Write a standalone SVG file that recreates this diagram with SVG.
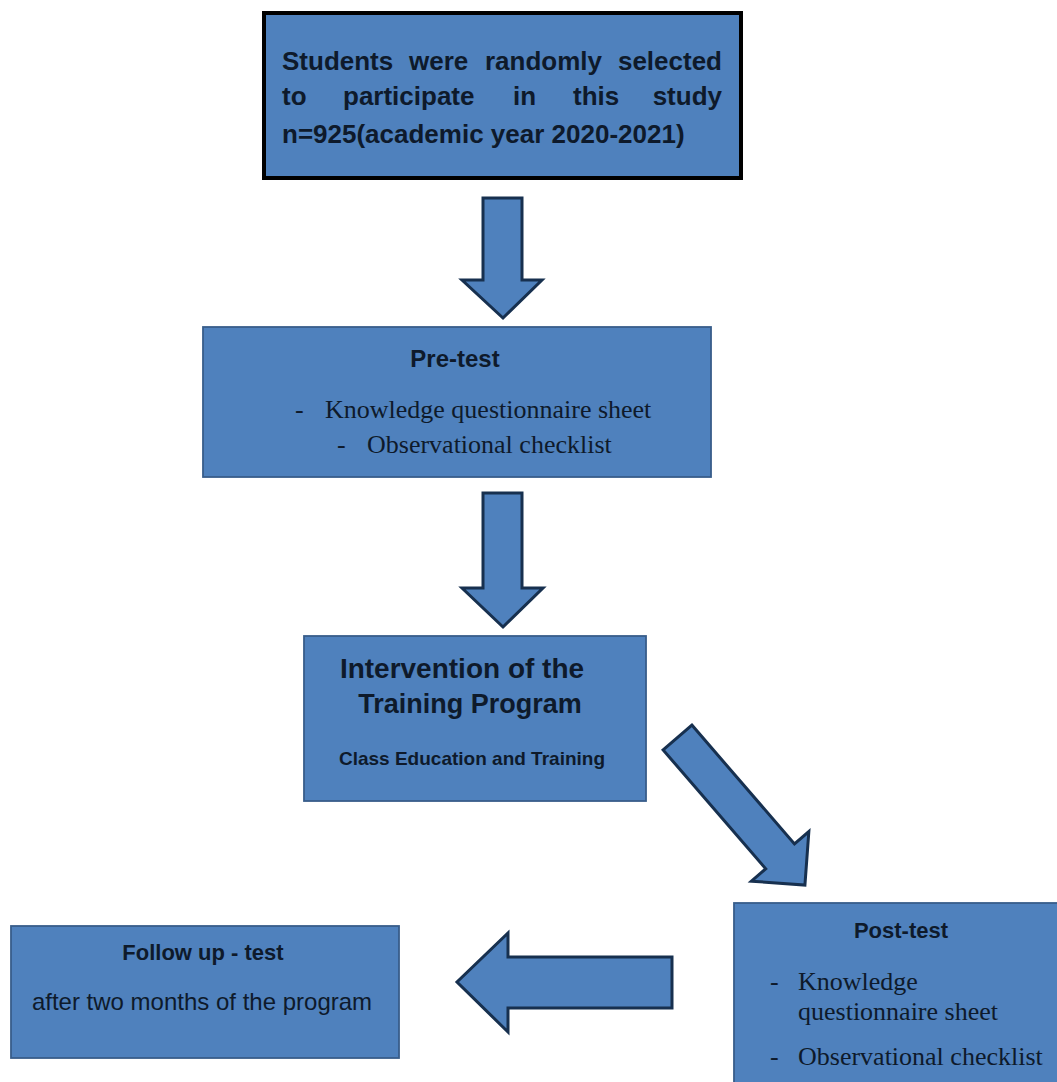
<svg xmlns="http://www.w3.org/2000/svg" width="1057" height="1082" viewBox="0 0 1057 1082">
<style>
.box{fill:#4f81bd;stroke:#385d8a;stroke-width:1.8}
.arrow{fill:#4f81bd;stroke:#17304f;stroke-width:3;stroke-linejoin:miter}
.b{font-family:"Liberation Sans",Arial,sans-serif;font-weight:bold;fill:#0e1a2b}
.r{font-family:"Liberation Sans",Arial,sans-serif;fill:#0e1a2b}
.s{font-family:"Liberation Serif","Times New Roman",serif;fill:#0e1a2b;font-size:26px}
</style>
<rect width="1057" height="1082" fill="#ffffff"/>
<g id="connectors">
<polygon class="arrow" points="483,198 522,198 522,280 542,280 503,318 462,280 483,280"/>
<polygon class="arrow" points="483,493 522,493 522,588 543,588 503,627 462,588 483,588"/>
<polygon class="arrow" transform="translate(677.5,737.5) rotate(49.2)" points="0,-19 157,-19 157,-38 195,0 157,38 157,19 0,19"/>
<polygon class="arrow" points="672,957 508,957 508,933 457,982 508,1032 508,1008 672,1008"/>
</g>
<g id="node-students">
<rect x="264" y="13" width="477" height="165" fill="#4f81bd" stroke="#000000" stroke-width="4"/>
<text class="b" font-size="26"><tspan x="282" y="70">Students</tspan><tspan x="409" y="70">were</tspan><tspan x="485" y="70">randomly</tspan><tspan x="722" y="70" text-anchor="end">selected</tspan></text>
<text class="b" font-size="26"><tspan x="282" y="105">to</tspan><tspan x="343" y="105">participate</tspan><tspan x="513" y="105">in</tspan><tspan x="573" y="105">this</tspan><tspan x="722" y="105" text-anchor="end">study</tspan></text>
<text class="b" font-size="26" x="282" y="143">n=925(academic year 2020-2021)</text>
</g>
<g id="node-pretest">
<rect class="box" x="203" y="327" width="508" height="150"/>
<text class="b" font-size="24" x="455" y="367" text-anchor="middle">Pre-test</text>
<text class="s" x="295" y="418">-</text>
<text class="s" x="325" y="418">Knowledge questionnaire sheet</text>
<text class="s" x="337" y="453">-</text>
<text class="s" x="367" y="453">Observational checklist</text>
</g>
<g id="node-intervention">
<rect class="box" x="304" y="636" width="342" height="165"/>
<text class="b" font-size="28" x="462" y="678" text-anchor="middle">Intervention of the</text>
<text class="b" font-size="27" x="470" y="713" text-anchor="middle">Training Program</text>
<text class="b" font-size="19" x="472" y="765" text-anchor="middle">Class Education and Training</text>
</g>
<g id="node-posttest">
<rect class="box" x="734" y="903" width="330" height="190"/>
<text class="b" font-size="22" x="901" y="938" text-anchor="middle">Post-test</text>
<text class="s" x="770" y="990">-</text>
<text class="s" x="798" y="990">Knowledge</text>
<text class="s" x="798" y="1020">questionnaire sheet</text>
<text class="s" x="770" y="1065">-</text>
<text class="s" x="798" y="1065">Observational checklist</text>
</g>
<g id="node-followup">
<rect class="box" x="11" y="926" width="388" height="132"/>
<text class="b" font-size="22" x="203" y="960" text-anchor="middle">Follow up - test</text>
<text class="r" font-size="24" x="202" y="1010" text-anchor="middle">after two months of the program</text>
</g>
</svg>
